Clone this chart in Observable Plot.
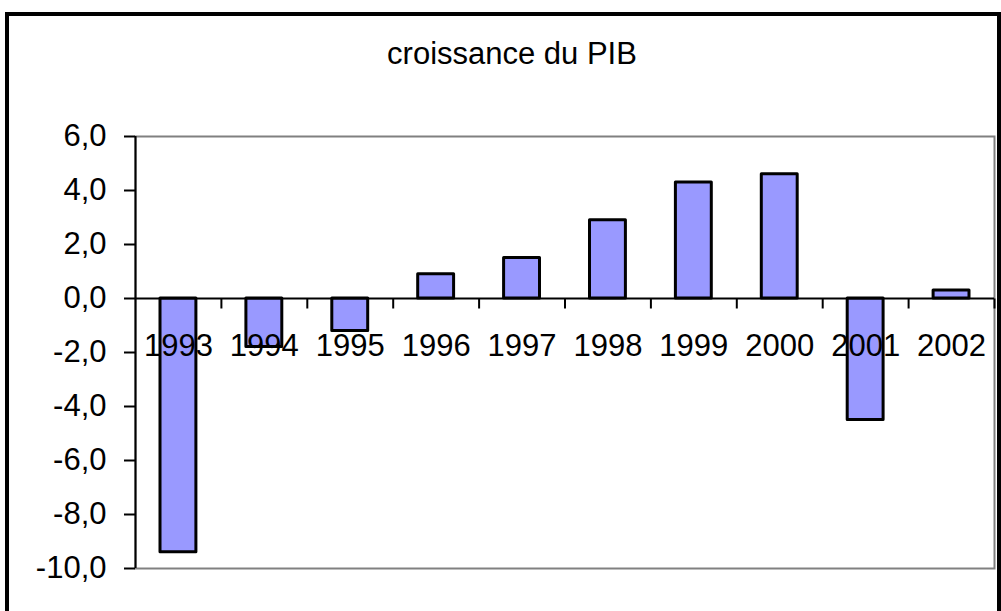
<!DOCTYPE html>
<html>
<head>
<meta charset="utf-8">
<script src="https://cdn.jsdelivr.net/npm/d3@7"></script>
<script src="https://cdn.jsdelivr.net/npm/@observablehq/plot@0.6"></script>
<style>
  html, body { margin: 0; padding: 0; background: #fff; overflow: hidden; }
  #wrap { position: relative; width: 1001px; height: 611px; font-family: "Liberation Sans", Arial, sans-serif; }
  #border { position: absolute; left: 5px; top: 12px; width: 988px; height: 640px; border: 4px solid #000; box-sizing: content-box; }
  #title { position: absolute; left: 0; width: 1024px; top: 36px; text-align: center; font-size: 31px; color: #000; line-height: 36px; }
  #chart { position: absolute; left: 0; top: 0; }
</style>
</head>
<body>
<div id="wrap">
  <div id="border"></div>
  <div id="title">croissance du PIB</div>
  <div id="chart"></div>
</div>
<script>
const years = ["1993", "1994", "1995", "1996", "1997", "1998", "1999", "2000", "2001", "2002"];
const growth = [-9.4, -1.8, -1.2, 0.9, 1.5, 2.9, 4.3, 4.6, -4.5, 0.3];
const yTicks = [-10, -8, -6, -4, -2, 0, 2, 4, 6];

const data = years.map((year, i) => ({year, i, value: growth[i]}));
const boundaries = d3.range(1, years.length + 1);
const fmt = d => d.toFixed(1).replace(".", ",");
const tickShape = { draw(context) { context.moveTo(0, 0); context.lineTo(0, 10); } };

const chart = Plot.plot({
  width: 1001,
  height: 611,
  marginLeft: 135,
  marginRight: 7,
  marginTop: 136,
  marginBottom: 43,
  style: { fontFamily: "'Liberation Sans', Arial, sans-serif", background: "transparent", color: "#000" },
  x: { domain: [0, years.length], axis: null },
  y: { domain: [-10, 6], axis: null },
  marks: [
    Plot.frame({ stroke: "#808080", strokeWidth: 2 }),
    Plot.rectY(data, { x1: "i", x2: d => d.i + 1, y1: 0, y2: "value", insetLeft: 25, insetRight: 25,
      fill: "#9999FF", stroke: "#000", strokeWidth: 3, strokeLinejoin: "round" }),
    Plot.ruleY([0], { stroke: "#000", strokeWidth: 2 }),
    Plot.dot(boundaries, { x: d => d, y: 0, symbol: tickShape, stroke: "#000", strokeWidth: 2, fill: "none" }),
    Plot.ruleX([0], { stroke: "#000", strokeWidth: 2 }),
    Plot.axisY(yTicks, { label: null, tickFormat: fmt, tickSize: 11, tickPadding: 18, fontSize: 31, stroke: "#000", strokeWidth: 2, fill: "#000" }),
    Plot.text(data, { x: d => d.i + 0.5, y: 0, text: "year", dy: 48, fontSize: 31, fill: "#000" })
  ]
});
document.getElementById("chart").appendChild(chart);
</script>
</body>
</html>
